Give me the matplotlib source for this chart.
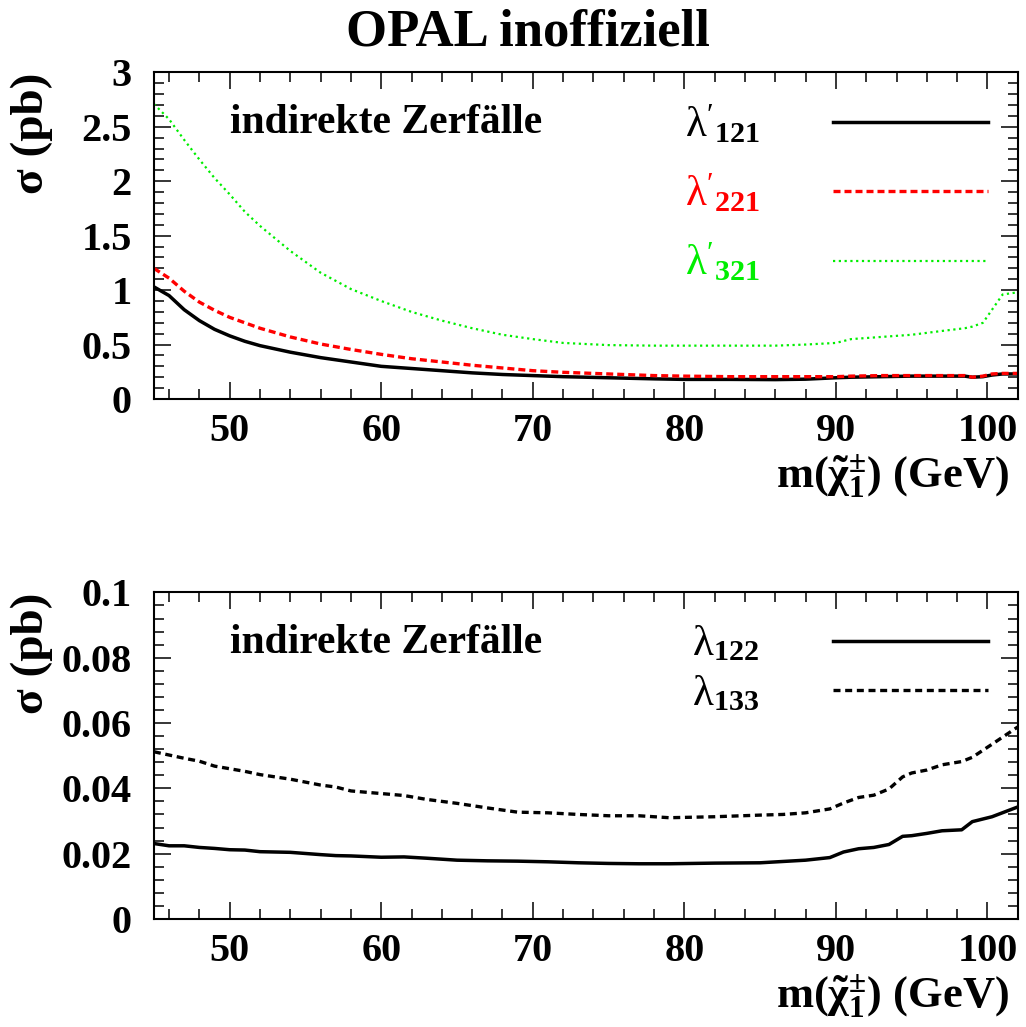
import matplotlib
matplotlib.use('Agg')
import matplotlib.pyplot as plt
from matplotlib.ticker import MultipleLocator

# cross sections vs chargino mass, indirect decays
mass_top = [45, 46, 47, 48, 49, 50, 51, 52, 54, 56, 58, 60, 62, 64, 66, 68, 70, 72, 75,
            78, 80, 83, 86, 88, 90, 91, 93, 95, 97, 98.5, 99, 99.7, 100.3, 101, 102]
sig_l121 = [1.03, 0.95, 0.82, 0.72, 0.64, 0.58, 0.53, 0.49, 0.43, 0.38, 0.34, 0.30, 0.28,
            0.26, 0.24, 0.225, 0.215, 0.205, 0.195, 0.185, 0.18, 0.18, 0.178, 0.182, 0.195,
            0.2, 0.205, 0.21, 0.21, 0.21, 0.2, 0.205, 0.22, 0.23, 0.23]
sig_l221 = [1.2, 1.11, 0.99, 0.89, 0.815, 0.75, 0.70, 0.65, 0.57, 0.505, 0.455, 0.41, 0.37,
            0.34, 0.31, 0.285, 0.26, 0.245, 0.23, 0.215, 0.21, 0.205, 0.205, 0.205, 0.205,
            0.21, 0.215, 0.215, 0.215, 0.215, 0.2, 0.21, 0.23, 0.235, 0.235]
sig_l321 = [2.71, 2.57, 2.38, 2.2, 2.03, 1.88, 1.72, 1.59, 1.36, 1.16, 1.01, 0.9, 0.8, 0.72,
            0.65, 0.59, 0.55, 0.515, 0.495, 0.49, 0.49, 0.49, 0.49, 0.5, 0.515, 0.55, 0.57,
            0.59, 0.625, 0.65, 0.665, 0.70, 0.82, 0.96, 0.98]

mass_bot = [45, 46, 47, 48, 49, 50, 51, 52, 54, 56, 57, 58, 60, 61.5, 63, 65, 67, 69, 71,
            73, 75, 77, 79, 82, 85, 86.5, 88, 89.6, 90.5, 91.5, 92.5, 93.5, 94.4, 95, 96,
            97, 98.3, 99, 100.3, 102]
sig_l122 = [0.0231, 0.0224, 0.0224, 0.0219, 0.0216, 0.0212, 0.0211, 0.0206, 0.0204, 0.0197,
            0.0194, 0.0193, 0.0189, 0.019, 0.0186, 0.0180, 0.0178, 0.0177, 0.0175, 0.0172,
            0.0170, 0.0169, 0.0169, 0.0171, 0.0172, 0.0176, 0.0180, 0.0188, 0.0205, 0.0215,
            0.0219, 0.0228, 0.0253, 0.0255, 0.0262, 0.0270, 0.0273, 0.0298, 0.0313, 0.0343]
sig_l133 = [0.0512, 0.0502, 0.0492, 0.0483, 0.0468, 0.046, 0.0452, 0.0442, 0.0428, 0.041,
            0.0404, 0.0392, 0.0384, 0.0378, 0.0366, 0.0354, 0.034, 0.0327, 0.0325, 0.032,
            0.0316, 0.0316, 0.031, 0.0313, 0.0318, 0.032, 0.0325, 0.0337, 0.0355, 0.0372,
            0.0379, 0.0398, 0.0435, 0.0447, 0.0456, 0.0472, 0.0482, 0.0495, 0.0535, 0.0588]

plt.rcParams['font.family'] = 'Liberation Serif'
plt.rcParams['font.weight'] = 'bold'
plt.rcParams['axes.labelweight'] = 'bold'
plt.rcParams['mathtext.fontset'] = 'custom'
plt.rcParams['mathtext.rm'] = 'Liberation Serif:weight=normal'
plt.rcParams['mathtext.bf'] = 'Liberation Serif:weight=bold'
plt.rcParams['mathtext.it'] = 'Liberation Serif:style=italic:weight=normal'

xlab = r"m($\mathbf{\tilde{\chi}^{\pm}_{1}}$) (GeV)"

fig = plt.figure(figsize=(10.26, 10.27), dpi=100)
ax1 = fig.add_axes([0.150, 0.6115, 0.842, 0.318])
ax2 = fig.add_axes([0.150, 0.1052, 0.842, 0.318])

ax1.plot(mass_top, sig_l121, color='black', lw=2.5, ls='-', label=r"$\mathrm{\lambda}'_{\mathbf{121}}$")
ax1.plot(mass_top, sig_l221, color='red', lw=2.4, ls=(0, (2.1, 1.2)), label=r"$\mathrm{\lambda}'_{\mathbf{221}}$")
ax1.plot(mass_top, sig_l321, color='#00ee00', lw=1.6, ls=(0, (1, 1.6)), label=r"$\mathrm{\lambda}'_{\mathbf{321}}$")
ax1.set_ylim(0, 3)
ax1.yaxis.set_minor_locator(MultipleLocator(0.1))
ax1.set_yticks([0, 0.5, 1, 1.5, 2, 2.5, 3], ['0', '0.5', '1', '1.5', '2', '2.5', '3'])

ax2.plot(mass_bot, sig_l122, color='black', lw=2.5, ls='-', label=r"$\mathrm{\lambda}_{\mathbf{122}}$")
ax2.plot(mass_bot, sig_l133, color='black', lw=2.4, ls=(0, (2.1, 1.4)), label=r"$\mathrm{\lambda}_{\mathbf{133}}$")
ax2.set_ylim(0, 0.1)
ax2.yaxis.set_minor_locator(MultipleLocator(0.004))
ax2.set_yticks([0, 0.02, 0.04, 0.06, 0.08, 0.1], ['0', '0.02', '0.04', '0.06', '0.08', '0.1'])

for ax, top, spacing in [(ax1, 0.905, 0.62), (ax2, 0.90, 0.22)]:
    ax.set_xlim(45, 102)
    ax.xaxis.set_major_locator(MultipleLocator(10))
    ax.xaxis.set_minor_locator(MultipleLocator(2))
    ax.tick_params(which='both', direction='in', top=True, right=True, width=1.1)
    ax.tick_params(which='major', length=12, labelsize=29)
    ax.tick_params(axis='y', which='major', pad=16)
    ax.tick_params(axis='x', which='major', pad=10)
    ax.tick_params(which='minor', length=7)
    for sp in ax.spines.values():
        sp.set_linewidth(1.5)
    ax.set_xlabel(xlab, fontsize=32, loc='right')
    ax.xaxis.set_label_coords(0.99, -0.165)
    ax.set_ylabel('σ (pb)', fontsize=34, loc='top')
    ax.yaxis.set_label_coords(-0.117, 1.0)
    ax.text(0.088, 0.845, 'indirekte Zerfälle', fontsize=30, va='center', transform=ax.transAxes)
    ax.legend(loc='upper right', bbox_to_anchor=(0.965, top), frameon=False, markerfirst=False,
              fontsize=31, handlelength=3.6, handletextpad=1.7, labelspacing=spacing,
              borderpad=0, borderaxespad=0, labelcolor='linecolor')

fig.text(0.515, 0.968, 'OPAL inoffiziell', fontsize=38, ha='center', va='center')

fig.savefig('out.png', dpi=100)
